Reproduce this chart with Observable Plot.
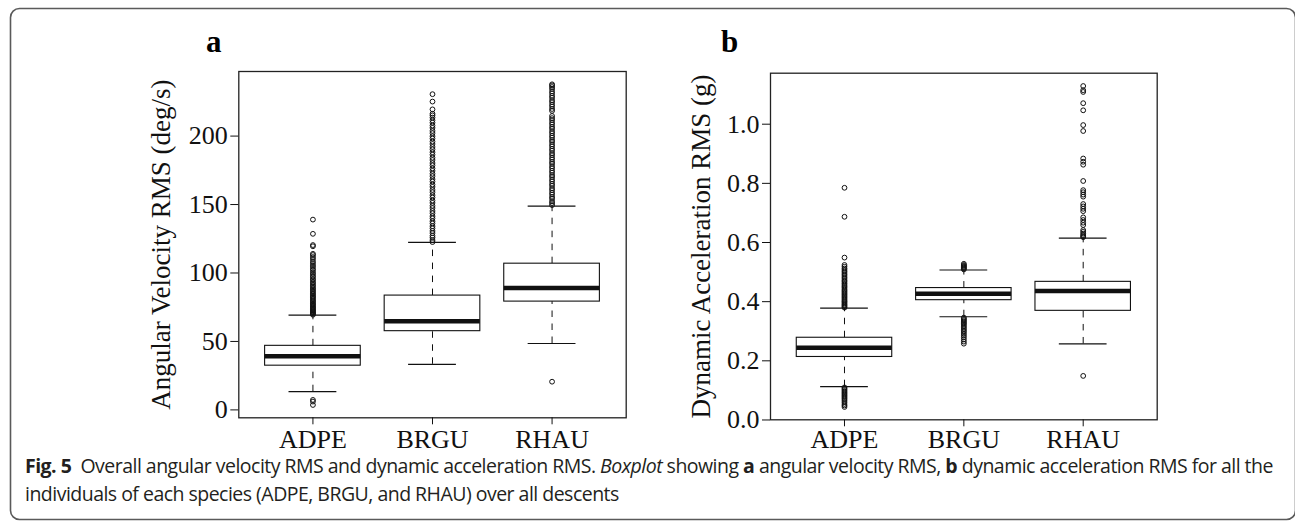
<!DOCTYPE html>
<html><head><meta charset="utf-8">
<script src="https://cdn.jsdelivr.net/npm/d3@7"></script>
<script src="https://cdn.jsdelivr.net/npm/@observablehq/plot@0.6"></script>
<style>
body{margin:0;background:#fff;}
#wrap{position:relative;width:1295px;height:523px;overflow:hidden;background:#fff;}
#wrap > svg, #wrap > div{position:absolute;}
#border{left:0;top:0;}
#pa{left:0;top:0;}
#pb{left:660px;top:0;}
#cap{left:25px;top:452px;font-family:"Open Sans","Noto Sans",sans-serif;font-size:19.5px;line-height:28px;color:#231f20;white-space:nowrap;}
#cap b{font-weight:700;}
</style></head><body>
<div id="wrap">
<svg id="border" width="1295" height="523">
  <rect x="10.5" y="8.5" width="1285" height="511" rx="9" ry="9" fill="none" stroke="#5a5a5a" stroke-width="1.6"/>
  <text x="206" y="52" font-family="Liberation Serif, Times New Roman, serif" font-weight="bold" font-size="31">a</text>
  <text x="721" y="52" font-family="Liberation Serif, Times New Roman, serif" font-weight="bold" font-size="31">b</text>
</svg>
<div id="pa"></div>
<div id="pb"></div>
<div id="cap"><span id="line1"><b>Fig. 5</b>&nbsp; Overall angular velocity RMS and dynamic acceleration RMS. <i>Boxplot</i> showing <b>a</b> angular velocity RMS, <b>b</b> dynamic acceleration RMS for all the</span><br><span id="line2">individuals of each species (ADPE, BRGU, and RHAU) over all descents</span></div>
</div>
<script>
// ---------- data ----------
const species = ["ADPE", "BRGU", "RHAU"];

// Panel a: angular velocity RMS (deg/s)
const angLow = [13.3, 33.3, 48.5];
const angQ1 = [32.3, 57.5, 79.1];
const angMedian = [39.1, 64.8, 89.1];
const angQ3 = [46.8, 83.5, 106.8];
const angHigh = [69.2, 122.3, 148.8];
const angOutADPE = [69.5, 70.2, 70.8, 71.3, 72.0, 72.6, 73.1, 73.9, 74.7, 75.2, 76.1, 76.9, 77.5, 78.4, 79.3, 80.0, 80.9, 81.9, 82.6, 83.4, 84.5, 85.2, 86.3, 87.1, 88.2, 89.0, 90.3, 91.1, 92.4, 93.2, 94.6, 95.5, 96.9, 97.9, 99.3, 100.4, 101.9, 103.0, 104.5, 105.7, 107.2, 108.5, 110.2, 111.6, 113.1, 114.0, 119.5, 120.4, 128.6, 139.0, 7.3, 6.1, 3.6];
const angOutBRGU = [122.6, 124.0, 125.8, 127.2, 129.1, 130.7, 132.6, 134.2, 136.2, 137.8, 139.9, 141.5, 143.6, 145.3, 147.4, 149.1, 151.2, 152.9, 155.1, 156.8, 159.0, 160.7, 162.9, 164.6, 166.8, 168.5, 170.7, 172.5, 174.6, 176.4, 178.6, 180.3, 182.5, 184.2, 186.4, 188.2, 190.3, 192.1, 194.2, 196.0, 198.2, 199.9, 202.1, 203.8, 206.0, 207.7, 209.8, 211.5, 213.5, 215.1, 216.3, 219.5, 225.2, 230.6];
const angOutRHAU = [149.6, 151.1, 152.4, 154.2, 155.5, 157.3, 158.7, 160.5, 161.9, 163.7, 165.1, 166.9, 168.3, 170.1, 171.5, 173.3, 174.7, 176.5, 177.9, 179.7, 181.1, 182.9, 184.3, 186.1, 187.5, 189.3, 190.7, 192.5, 193.9, 195.7, 197.1, 198.9, 200.3, 202.1, 203.5, 205.3, 206.7, 208.5, 209.9, 211.7, 213.1, 214.7, 218.4, 219.8, 221.6, 223.0, 224.8, 226.2, 228.0, 229.4, 231.2, 232.6, 234.4, 235.8, 237.0, 237.8, 20.6];
const angTicks = [0, 50, 100, 150, 200];

// Panel b: dynamic acceleration RMS (g)
const accLow = [0.1125, 0.349, 0.257];
const accQ1 = [0.213, 0.405, 0.369];
const accMedian = [0.244, 0.427, 0.436];
const accQ3 = [0.278, 0.446, 0.467];
const accHigh = [0.378, 0.507, 0.615];
const accOutADPE = [0.380, 0.383, 0.387, 0.390, 0.394, 0.398, 0.401, 0.405, 0.409, 0.413, 0.417, 0.421, 0.425, 0.429, 0.433, 0.437, 0.441, 0.446, 0.450, 0.454, 0.459, 0.463, 0.468, 0.472, 0.477, 0.482, 0.487, 0.492, 0.497, 0.502, 0.507, 0.512, 0.518, 0.524, 0.549, 0.687, 0.785, 0.110, 0.106, 0.102, 0.098, 0.094, 0.090, 0.086, 0.082, 0.078, 0.074, 0.070, 0.065, 0.060, 0.054, 0.049, 0.044];
const accOutBRGU = [0.509, 0.512, 0.515, 0.518, 0.521, 0.524, 0.528, 0.346, 0.342, 0.338, 0.334, 0.330, 0.326, 0.322, 0.317, 0.312, 0.307, 0.302, 0.297, 0.291, 0.285, 0.279, 0.272, 0.265, 0.258];
const accOutRHAU = [1.129, 1.115, 1.109, 1.071, 1.047, 0.997, 0.977, 0.884, 0.873, 0.863, 0.808, 0.777, 0.770, 0.762, 0.755, 0.730, 0.722, 0.714, 0.706, 0.685, 0.676, 0.667, 0.659, 0.642, 0.636, 0.630, 0.625, 0.621, 0.618, 0.149];
const accTicks = [0, 0.2, 0.4, 0.6, 0.8, 1.0];

// ---------- drawing ----------
function panel(o) {
  const stats = species.map((s, i) => ({s, lo: o.lo[i], q1: o.q1[i], med: o.med[i], q3: o.q3[i], hi: o.hi[i]}));
  const pts = o.out.flatMap((arr, i) => arr.map(v => ({s: species[i], v})));
  const all = [...o.lo, ...o.hi, ...pts.map(d => d.v)];
  const mn = d3.min(all), mx = d3.max(all), ext = (mx - mn) * 0.04;
  const plotW = o.width - o.ml - o.mr;
  const step = plotW / (3 - 0.2 + 2 * 0.22);
  const capInset = step * 0.2;
  const ink = "#111";
  return Plot.plot({
    width: o.width, height: o.height,
    marginLeft: o.ml, marginRight: o.mr, marginTop: o.mt, marginBottom: o.mb,
    style: {fontFamily: "'Liberation Serif', 'Times New Roman', serif", fontSize: "26px", color: ink, background: "transparent", overflow: "visible"},
    x: {type: "band", domain: species, paddingInner: 0.2, paddingOuter: 0.22, round: false},
    y: {domain: [mn - ext, mx + ext]},
    marks: [
      Plot.ruleX(stats, {x: "s", y1: "q3", y2: "hi", stroke: ink, strokeWidth: 1, strokeDasharray: "6.5,6.5"}),
      Plot.ruleX(stats, {x: "s", y1: "lo", y2: "q1", stroke: ink, strokeWidth: 1, strokeDasharray: "6.5,6.5"}),
      Plot.tickY(stats, {x: "s", y: "hi", stroke: ink, strokeWidth: 1.2, insetLeft: capInset, insetRight: capInset}),
      Plot.tickY(stats, {x: "s", y: "lo", stroke: ink, strokeWidth: 1.2, insetLeft: capInset, insetRight: capInset}),
      Plot.barY(stats, {x: "s", y1: "q1", y2: "q3", fill: "white", stroke: ink, strokeWidth: 1.1}),
      Plot.tickY(stats, {x: "s", y: "med", stroke: ink, strokeWidth: 4.5}),
      Plot.dot(pts, {x: "s", y: "v", r: 2.4, stroke: ink, strokeWidth: 1, fill: "none"}),
      Plot.frame({stroke: "#222", strokeWidth: 1.3}),
      Plot.axisY({ticks: o.ticks, tickFormat: o.fmt, tickSize: 8, tickPadding: 3, label: null}),
      Plot.text([o.label], {frameAnchor: "left", rotate: -90, dx: -o.labelOffset, textAnchor: "middle", lineAnchor: "top", fontSize: 27, fill: ink}),
      Plot.axisX({tickSize: 7, tickPadding: o.xPad, label: null})
    ]
  });
}

document.getElementById("pa").appendChild(panel({
  lo: angLow, q1: angQ1, med: angMedian, q3: angQ3, hi: angHigh,
  out: [angOutADPE, angOutBRGU, angOutRHAU], ticks: angTicks, fmt: d3.format("d"),
  label: "Angular Velocity RMS (deg/s)", labelOffset: 88, xPad: 5,
  width: 650, height: 470, ml: 238.3, mr: 24.3, mt: 71, mb: 52.7
}));
document.getElementById("pb").appendChild(panel({
  lo: accLow, q1: accQ1, med: accMedian, q3: accQ3, hi: accHigh,
  out: [accOutADPE, accOutBRGU, accOutRHAU], ticks: accTicks, fmt: d3.format(".1f"),
  label: "Dynamic Acceleration RMS (g)", labelOffset: 80, xPad: 3,
  width: 520, height: 470, ml: 110, mr: 23.3, mt: 72.7, mb: 50.7
}));

// fit caption first line to the reference width
const l1 = document.getElementById("line1");
const target = 1248;
const w = l1.getBoundingClientRect().width;
const n = l1.textContent.length;
document.getElementById("cap").style.letterSpacing = ((target - w) / n).toFixed(3) + "px";
</script>
</body></html>
